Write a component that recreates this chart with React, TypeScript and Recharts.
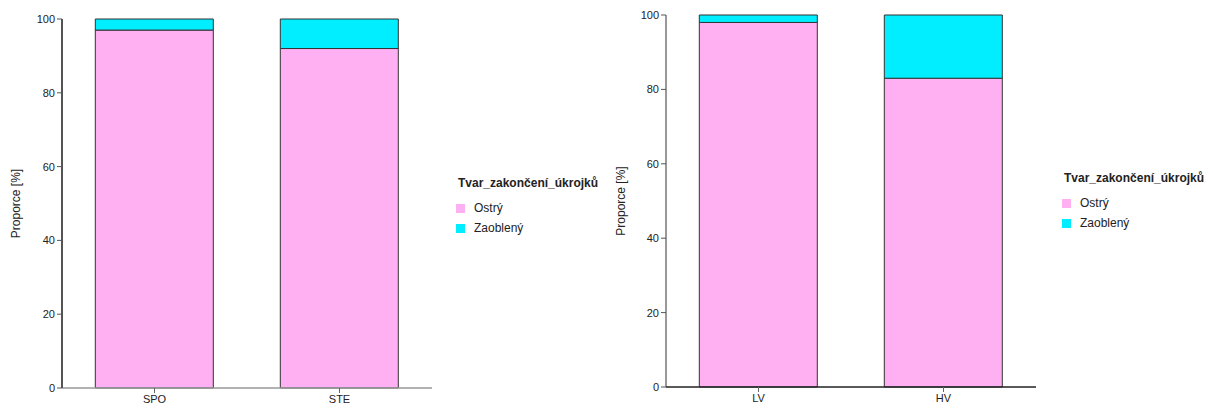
import React from 'react';
import { BarChart, Bar, XAxis, YAxis, Legend } from 'recharts';

const GROUPS_A = ['SPO', 'STE'];
const OSTRY_A = [97, 92];
const ZAOBLENY_A = [3, 8];

const GROUPS_B = ['LV', 'HV'];
const OSTRY_B = [98, 83];
const ZAOBLENY_B = [2, 17];

const Y_TICKS = [0, 20, 40, 60, 80, 100];
const SERIES = [
  { key: 'ostry', label: 'Ostrý', color: '#FFB0F2' },
  { key: 'zaobleny', label: 'Zaoblený', color: '#00EEFF' },
];
const LEGEND_TITLE = 'Tvar_zakončení_úkrojků';
const Y_LABEL = 'Proporce [%]';

const FONT = '"Liberation Sans", Arial, sans-serif';

const build = (groups: string[], a: number[], b: number[]) =>
  groups.map((g, i) => ({ name: g, ostry: a[i], zaobleny: b[i] }));

function LegendBox() {
  return (
    <div style={{ fontFamily: FONT, color: '#222' }}>
      <div style={{ fontSize: 12, fontWeight: 'bold', marginBottom: 8, marginLeft: 2 }}>{LEGEND_TITLE}</div>
      {SERIES.map((s) => (
        <div key={s.key} style={{ display: 'flex', alignItems: 'center', fontSize: 12, height: 20 }}>
          <span style={{ width: 9, height: 9, background: s.color, display: 'inline-block', marginRight: 9 }} />
          {s.label}
        </div>
      ))}
    </div>
  );
}

interface PanelProps {
  data: { name: string; ostry: number; zaobleny: number }[];
  width: number;
  margin: { top: number; right: number; left: number; bottom: number };
  xHeight: number;
  axisColor: string;
  yAxisStyle: { stroke: string; strokeWidth: number };
  legendPos: { left: number; top: number };
  labelOffset: number;
}

function Panel({ data, width, margin, xHeight, axisColor, yAxisStyle, legendPos, labelOffset }: PanelProps) {
  return (
    <BarChart width={width} height={409} data={data} margin={margin} barCategoryGap="18%">
      <XAxis
        dataKey="name"
        height={xHeight}
        tick={{ fontSize: 11, fill: '#222', fontFamily: FONT }}
        tickSize={5}
        stroke={axisColor}
        axisLine={{ stroke: axisColor, strokeWidth: 1.5 }}
        tickLine={{ stroke: '#666' }}
      />
      <YAxis
        domain={[0, 100]}
        ticks={Y_TICKS}
        width={62}
        tick={{ fontSize: 11, fill: '#222', fontFamily: FONT }}
        tickSize={5}
        axisLine={yAxisStyle}
        tickLine={{ stroke: '#555' }}
        label={{
          value: Y_LABEL,
          angle: -90,
          position: 'insideLeft',
          offset: labelOffset,
          style: { textAnchor: 'middle', fontSize: 12, fill: '#222', fontFamily: FONT },
        }}
      />
      <Legend
        layout="horizontal"
        verticalAlign="middle"
        wrapperStyle={{ position: 'absolute', left: legendPos.left, top: legendPos.top, width: 200 }}
        content={() => <LegendBox />}
      />
      {SERIES.map((s) => (
        <Bar
          key={s.key}
          dataKey={s.key}
          stackId="a"
          fill={s.color}
          stroke="#333"
          strokeWidth={1}
          isAnimationActive={false}
        />
      ))}
    </BarChart>
  );
}

export default function App() {
  return (
    <div style={{ position: 'absolute', left: 0, top: 0, width: 1213, height: 409, background: '#fff' }}>
      <div style={{ position: 'absolute', left: 0, top: 0 }}>
        <Panel
          data={build(GROUPS_A, OSTRY_A, ZAOBLENY_A)}
          width={604}
          margin={{ top: 19, right: 172, left: 0, bottom: 0 }}
          xHeight={21}
          axisColor="#999"
          yAxisStyle={{ stroke: '#555', strokeWidth: 2 }}
          legendPos={{ left: 456, top: 176 }}
          labelOffset={16}
        />
      </div>
      <div style={{ position: 'absolute', left: 604, top: 0 }}>
        <Panel
          data={build(GROUPS_B, OSTRY_B, ZAOBLENY_B)}
          width={609}
          margin={{ top: 15, right: 177, left: 0, bottom: 0 }}
          xHeight={22}
          axisColor="#222"
          yAxisStyle={{ stroke: '#333', strokeWidth: 1 }}
          legendPos={{ left: 458, top: 171 }}
          labelOffset={17}
        />
      </div>
    </div>
  );
}
